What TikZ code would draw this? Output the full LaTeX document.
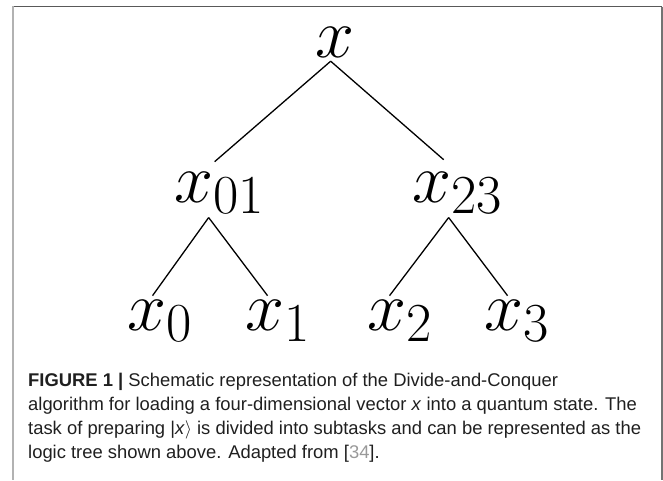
\RequirePackage{fix-cm}
\documentclass[tikz,border=0pt]{standalone}
\usepackage[no-math]{fontspec}
\usepackage{xcolor}
\newfontfamily\capfont{Liberation Sans}
\DeclareMathSizes{70}{70}{55}{40}

\begin{document}
\begin{tikzpicture}[x=1pt,y=-1pt,
  var/.style={inner sep=4pt,anchor=base west,font=\fontsize{70}{80}\selectfont},
  branch/.style={line width=1.3pt}]
\useasboundingbox (0,0) rectangle (663,480);
% frame of the figure
\draw[line width=1.5pt,black!65] (12,6.5) -- (662,6.5);
\draw[line width=1.5pt,black!55] (662,6.5) -- (662,480);
\draw[line width=2pt,black!30] (12.5,6) -- (12.5,480);

% tree
\node[var] (root) at (311,57) {$x$};
\node[var] (x01) at (170,202) {$x_{01}$};
\node[var] (x23) at (408,202) {$x_{23}$};
\node[var] (x0) at (123,330) {$x_0$};
\node[var] (x1) at (241,330) {$x_1$};
\node[var] (x2) at (363,330) {$x_2$};
\node[var] (x3) at (480,330) {$x_3$};

\draw[branch] ([xshift=-4pt]root.south) -- ([xshift=-4.5pt,yshift=6pt]x01.north);
\draw[branch] ([xshift=-4pt]root.south) -- ([xshift=-13.5pt,yshift=8pt]x23.north);
\draw[branch] ([xshift=-10.5pt]x01.south) -- ([xshift=-7pt]x0.north);
\draw[branch] ([xshift=-10.5pt]x01.south) -- ([xshift=-10pt]x1.north);
\draw[branch] ([xshift=-8.5pt]x23.south) -- ([xshift=-10pt]x2.north);
\draw[branch] ([xshift=-8.5pt]x23.south) -- ([xshift=-9pt]x3.north);

% caption
\node[anchor=base west,align=left,inner sep=0pt,text=black!88,
  font=\capfont\fontsize{18.4}{24}\selectfont] (cap) at (28,458)
  {\textbf{FIGURE 1 |} Schematic representation of the Divide-and-Conquer\\
   algorithm for loading a four-dimensional vector \textit{x} into a quantum state. The\\
   task of preparing |\textit{x}$\rangle$ is divided into subtasks and can be represented as the\\
   logic tree shown above. Adapted from [{\color{black!40}34}].};
\end{tikzpicture}
\end{document}
